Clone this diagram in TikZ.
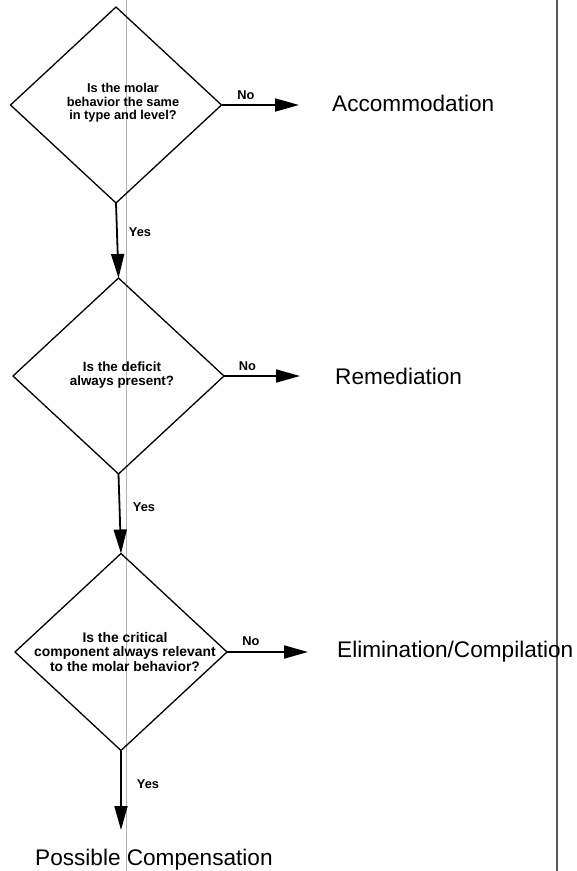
\documentclass[tikz,border=0pt]{standalone}
\usepackage{fontspec}
\setmainfont{Liberation Sans}
\usetikzlibrary{shapes.geometric,arrows.meta}
\begin{document}
\begin{tikzpicture}[x=1pt,y=-1pt,
  decision/.style={shape=diamond, draw, line width=1.3pt, minimum width=211pt, minimum height=196pt, inner sep=0pt, outer sep=0pt},
  qtext/.style 2 args={align=center, inner sep=0pt, font=\bfseries\fontsize{#1}{#2}\selectfont},
  flow/.style={line width=1.8pt, -{Triangle[length=24pt,width=13pt]}},
  lab/.style={inner sep=0pt, font=\bfseries\fontsize{12.8}{14}\selectfont},
  result/.style={inner sep=0pt, anchor=base west, font=\fontsize{22.6}{26}\selectfont},
  scan/.style={line width=0.8pt, black!30}]
\useasboundingbox (0,0) rectangle (577,871);
\fill[white] (0,0) rectangle (577,871);
% scanner marks
\coordinate (s1t) at (126,0); \coordinate (s1b) at (126,871);
\coordinate (s2t) at (557,0); \coordinate (s2b) at (557,871);
\draw[scan] (s1t) -- (s1b);
\draw[line width=1.2pt, black!65] (s2t) -- (s2b);
% decisions
\node[decision] (d1) at (116,105) {};
\node[decision] (d2) at (118.5,376) {};
\node[decision, minimum width=212pt, minimum height=197pt] (d3) at (121,652) {};
\node[qtext={12.8}{13.4}] (q1) at (123,103) {Is the molar\\behavior the same\\in type and level?};
\node[qtext={13.4}{14}] (q2) at (122,375) {Is the deficit\\always present?};
\node[qtext={13.9}{14.5}] (q3) at (125,652) {Is the critical\\component always relevant\\to the molar behavior?};
% results
\node[result] (r1) at (332,111) {Accommodation};
\node[result] (r2) at (335,384) {Remediation};
\node[result] (r3) at (337,657) {Elimination/Compilation};
\node[result] (r4) at (35,865) {Possible Compensation};
% arrow ends
\coordinate (e1) at (299,105);
\coordinate (e2) at (300,376);
\coordinate (e3) at (308,652);
\coordinate (e4) at (121,830);
% connectors
\draw[flow] (d1.east) -- (e1);
\draw[flow] (d2.east) -- (e2);
\draw[flow] (d3.east) -- (e3);
\draw[flow] (d1.south) -- (d2.north);
\draw[flow] (d2.south) -- (d3.north);
\draw[flow] (d3.south) -- (e4);
% labels
\node[lab] (no1) at (246,95) {No};
\node[lab] (no2) at (247.5,366) {No};
\node[lab] (no3) at (251,641) {No};
\node[lab] (y1) at (140,232) {Yes};
\node[lab] (y2) at (144,507) {Yes};
\node[lab] (y3) at (148,784) {Yes};
\end{tikzpicture}
\end{document}
